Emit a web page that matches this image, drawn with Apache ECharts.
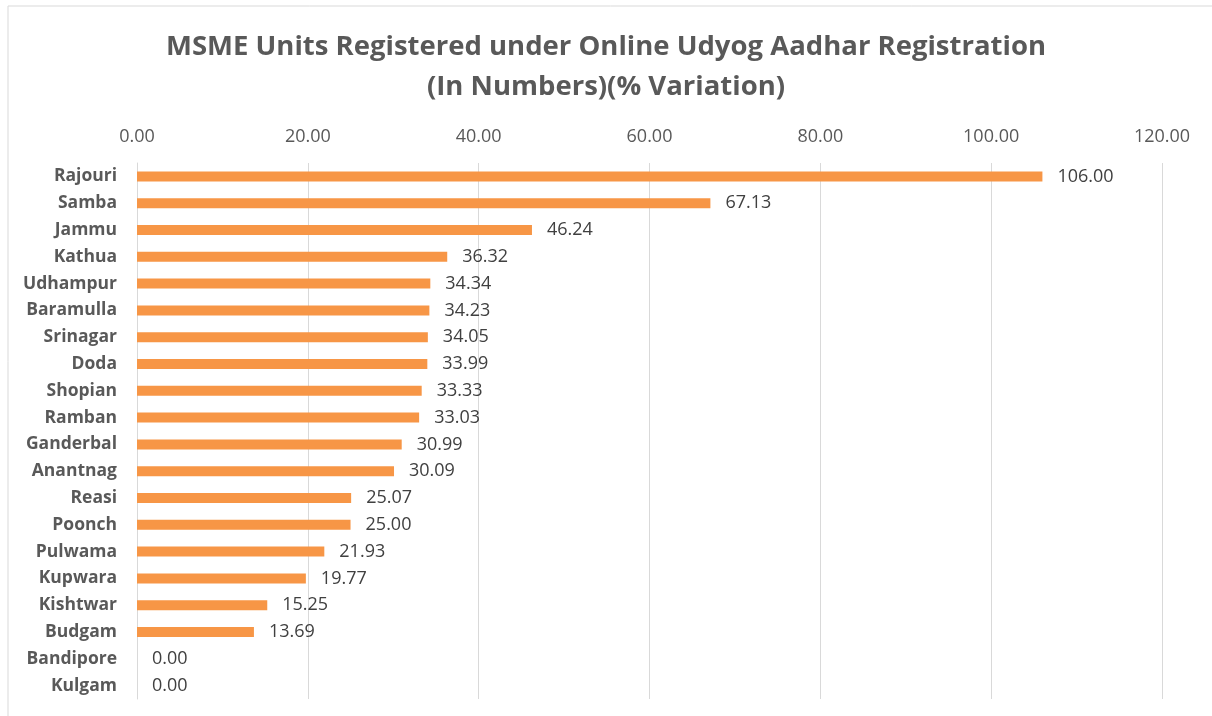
<!DOCTYPE html>
<html>
<head>
<meta charset="utf-8">
<script src="https://cdn.jsdelivr.net/npm/echarts@6/dist/echarts.min.js"></script>
<style>
html,body{margin:0;padding:0;background:#fff;}
#main{width:1212px;height:716px;}
</style>
</head>
<body>
<div id="main"></div>
<script>
var districts = ['Rajouri','Samba','Jammu','Kathua','Udhampur','Baramulla','Srinagar','Doda','Shopian','Ramban',
    'Ganderbal','Anantnag','Reasi','Poonch','Pulwama','Kupwara','Kishtwar','Budgam','Bandipore','Kulgam'];
var variation = [106.00,67.13,46.24,36.32,34.34,34.23,34.05,33.99,33.33,33.03,
    30.99,30.09,25.07,25.00,21.93,19.77,15.25,13.69,0.00,0.00];

var myChart = echarts.init(document.getElementById('main'));

var option = {
    backgroundColor: '#fff',
    title : {
        text: 'MSME Units Registered under Online Udyog Aadhar Registration\n(In Numbers)(% Variation)',
        left: 'center',
        top: 22,
        textStyle: {
            fontFamily: 'Open Sans',
            fontSize: 27.5,
            fontWeight: 'bold',
            color: '#595959',
            lineHeight: 40
        }
    },
    graphic: [{
        type: 'rect',
        shape: {x: 8, y: 6, width: 1210, height: 720},
        style: {fill: 'none', stroke: '#d9d9d9', lineWidth: 1}
    }],
    grid: {
        left: 137,
        right: 50,
        top: 163,
        bottom: 17
    },
    xAxis : [
        {
            type : 'value',
            position: 'top',
            min: 0,
            max: 120,
            interval: 20,
            axisLine: {show: false},
            axisTick: {show: false},
            splitLine: {lineStyle: {color: '#d9d9d9', width: 1}},
            axisLabel : {
                formatter: function (v) { return v.toFixed(2); },
                fontFamily: 'Open Sans',
                fontSize: 18,
                color: '#595959',
                margin: 17
            }
        }
    ],
    yAxis : [
        {
            type : 'category',
            inverse: true,
            data : districts,
            axisLine: {lineStyle: {color: '#d9d9d9'}},
            axisTick: {show: false},
            axisLabel : {
                fontFamily: 'Open Sans',
                fontSize: 17.5,
                fontWeight: 'bold',
                color: '#595959',
                margin: 20
            }
        }
    ],
    series : [
        {
            name:'% Variation',
            type:'bar',
            data:variation,
            barWidth: 10,
            itemStyle: {color: '#F79646'},
            label: {
                show: true,
                position: 'right',
                distance: 15,
                formatter: function (p) { return p.value.toFixed(2); },
                fontFamily: 'Open Sans',
                fontSize: 18,
                color: '#404040'
            }
        }
    ]
};
myChart.setOption(option);
</script>
</body>
</html>
